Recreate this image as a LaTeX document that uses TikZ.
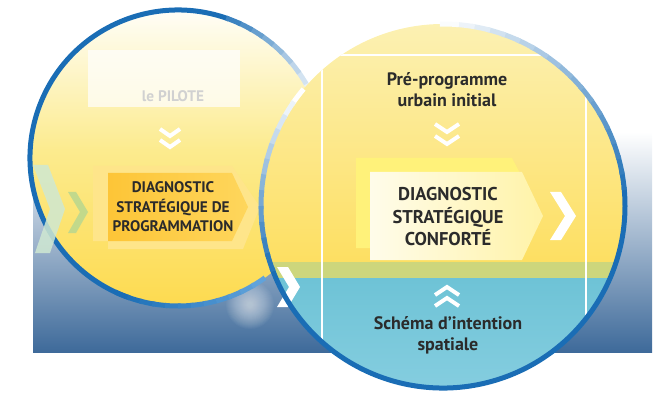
\documentclass[tikz,border=0pt]{standalone}
\usepackage{fontspec}
\setmainfont{PT Sans}
\definecolor{ringblue}{HTML}{1A6DB5}
\definecolor{skyring}{HTML}{6AAAE0}
\definecolor{bgblue}{HTML}{3E6A9A}
\definecolor{bgmid}{HTML}{AFC5DB}
\definecolor{lyellow}{HTML}{FCEB8E}
\definecolor{dyellow}{HTML}{FDDA4E}
\definecolor{ryellow}{HTML}{FCF1B4}
\definecolor{ryellowb}{HTML}{FDDF62}
\definecolor{band}{HTML}{CDD67C}
\definecolor{cyantop}{HTML}{6EC3D6}
\definecolor{cyanbot}{HTML}{86CEE0}
\definecolor{boxorange}{HTML}{FDC537}
\definecolor{boxorangeb}{HTML}{FED65C}
\definecolor{boxpale}{HTML}{FEE58A}
\definecolor{boxback}{HTML}{FFF27A}
\definecolor{boxfront}{HTML}{FFFCEA}
\definecolor{boxfrontb}{HTML}{FFF3A8}
\definecolor{mint}{HTML}{CFE8D2}
\definecolor{olive}{HTML}{BCD88E}
\definecolor{txt}{HTML}{2B2B2B}
\begin{document}
\begin{tikzpicture}[x=1pt, y=-1pt,
	label/.style={font=\bfseries\fontsize{18}{21}\selectfont, text=txt, align=center},
	biglabel/.style={font=\bfseries\fontsize{18.5}{22.5}\selectfont, text=txt, align=center},
	smalllabel/.style={font=\bfseries\fontsize{15.3}{19.5}\selectfont, text=txt, align=center},
	chev/.style={draw=white, line width=4pt},
	ring/.style={line width=5pt},
	frame/.style={draw=white, line width=2.5pt}]
	\useasboundingbox (0,0) rectangle (667,393);
	\coordinate (lc) at (178,158);
	\coordinate (rc) at (443,206);
	\shade[top color=white, middle color=bgmid, bottom color=bgblue] (33,132) rectangle (652,352);
	\foreach \r in {3,4,...,24}
		\fill[white, opacity=0.035] (250,305) circle (\r);
	\begin{scope}
		\clip (lc) circle (148);
		\shade[top color=white, bottom color=lyellow] (20,0) rectangle (330,150);
		\shade[top color=lyellow, bottom color=dyellow] (20,150) rectangle (330,310);
		\fill[white, opacity=0.7] (88,50) rectangle (240,107);
	\end{scope}
	\draw[ring, ringblue] ([shift={(-70:148)}]lc) arc (-70:-250:148);
	\foreach \a [evaluate=\a as \p using (\a-20)*1.9] in {20,25,...,65}
		\draw[ring, ringblue!\p!white] ([shift={(-\a:148)}]lc) arc (-\a:-\a-6:148);
	\foreach \a [evaluate=\a as \p using 100-(\a-245)*1.6] in {245,250,...,300}
		\draw[ring, ringblue!\p!skyring] ([shift={(-\a:148)}]lc) arc (-\a:-\a-6:148);
	\node[smalllabel, text=black!18] (pilote) at (173,96) {le PILOTE};
	\foreach \y in {129,140}
		\draw[chev] (160,\y) -- (170,\y+7) -- (180,\y);
	\fill[boxpale] (93,166) -- (232,166) -- (260,207) -- (243,249) -- (108,249) -- (108,241) -- (93,241) -- cycle;
	\shade[left color=boxorange, right color=boxorangeb] (108,173) -- (232,173) -- (248,207) -- (232,241) -- (108,241) -- cycle;
	\node[smalllabel] (diagprog) at (173,207) {DIAGNOSTIC\\STRATÉGIQUE DE\\PROGRAMMATION};
	\fill[mint, opacity=0.85] (33,165) -- (48,165) -- (65,209) -- (50,253) -- (35,253) -- (50,209) -- cycle;
	\fill[olive, opacity=0.9] (68,192) -- (76,192) -- (88,212) -- (76,233) -- (68,233) -- (80,212) -- cycle;
	\begin{scope}
		\clip (rc) circle (182);
		\shade[top color=ryellow, bottom color=ryellowb] (250,20) rectangle (640,262);
		\fill[band] (250,262) rectangle (640,278);
		\shade[top color=cyantop, bottom color=cyanbot] (250,278) rectangle (640,395);
		\draw[frame] (322,400) -- (322,55) -- (586,55) -- (586,400);
	\end{scope}
	\node[label] (preprog) at (447,90) {Pré-programme\\urbain initial};
	\foreach \y in {124,136}
		\draw[chev] (435,\y) -- (447,\y+8) -- (459,\y);
	\fill[boxback] (356,158) -- (512,158) -- (534,200) -- (512,248) -- (356,248) -- cycle;
	\shade[left color=boxfront, right color=boxfrontb] (370,172) -- (522,172) -- (543,216) -- (522,260) -- (370,260) -- cycle;
	\node[biglabel] (diagconf) at (448,217) {DIAGNOSTIC\\STRATÉGIQUE\\CONFORTÉ};
	\fill[white] (550,192) -- (561,192) -- (576,216) -- (561,240) -- (550,240) -- (565,216) -- cycle;
	\foreach \y in {295,306}
		\draw[chev] (435,\y) -- (447,\y-8) -- (459,\y);
	\node[label] (schema) at (448,335) {Schéma d{\char"27}intention\\spatiale};
	\fill[white] (277,267) -- (288,267) -- (300,287) -- (288,307) -- (277,307) -- (289,287) -- cycle;
	\draw[ring, ringblue] ([shift={(-200:182)}]rc) arc (-200:-360:182);
	\foreach \a [evaluate=\a as \p using 100-\a*1.15] in {0,5,...,85}
		\draw[ring, ringblue!\p!white] ([shift={(-\a:182)}]rc) arc (-\a:-\a-6:182);
	\foreach \a [evaluate=\a as \p using (\a-140)*1.7] in {140,145,...,195}
		\draw[ring, ringblue!\p!white] ([shift={(-\a:182)}]rc) arc (-\a:-\a-6:182);
\end{tikzpicture}
\end{document}
